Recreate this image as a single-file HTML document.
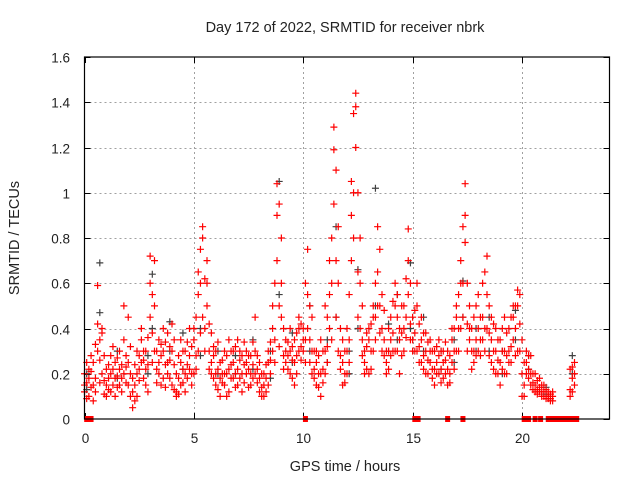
<!DOCTYPE html>
<html><head><meta charset="utf-8"><style>
body{margin:0;background:#fff;width:640px;height:480px;overflow:hidden}
svg{display:block;font-family:"Liberation Sans",sans-serif}
</style></head><body>
<svg id="c" width="640" height="480"></svg>
<script>
const xTicks=[0,5,10,15,20];
const yTicks=[0,0.2,0.4,0.6,0.8,1,1.2,1.4,1.6];
const yTickLabels=["0","0.2","0.4","0.6","0.8","1","1.2","1.4","1.6"];
const redData=[
[0.0,.2,.12,.15],[0.2,.18,.1,.22],[0.4,.25,.15,.08],[0.6,.3,.59,.42],[0.8,.38,.4,.2],
[1.0,.15,.1,.22],[1.2,.2,.28,.12],[1.4,.18,.25,.1],[1.6,.22,.3,.15],[1.8,.5,.35,.2],
[2.0,.45,.25,.15],[2.2,.12,.18,.05],[2.4,.2,.3,.1],[2.6,.35,.25,.4],[2.8,.3,.22,.15],
[3.0,.72,.6,.45],[3.2,.7,.5,.3],[3.4,.35,.2,.25],[3.6,.3,.18,.4],[3.8,.38,.25,.2],
[4.0,.42,.3,.15],[4.2,.12,.2,.1],[4.4,.15,.25,.35],[4.6,.2,.3,.12],[4.8,.28,.22,.4],
[5.0,.4,.35,.2],[5.2,.55,.65,.3],[5.4,.85,.8,.45],[5.6,.7,.6,.5],[5.8,.38,.25,.2],
[6.0,.3,.2,.15],[6.2,.1,.25,.18],[6.4,.3,.2,.15],[6.6,.35,.22,.12],[6.8,.25,.3,.18],
[7.0,.22,.15,.35],[7.2,.28,.2,.12],[7.4,.3,.25,.2],[7.6,.2,.15,.28],[7.8,.45,.3,.2],
[8.0,.18,.12,.25],[8.2,.15,.1,.2],[8.4,.25,.3,.15],[8.6,.4,.5,.3],[8.8,1.04,.9,.7],
[9.0,.8,.6,.45],[9.2,.35,.25,.3],[9.4,.3,.2,.4],[9.6,.25,.15,.35],[9.8,.45,.3,.4],
[10.0,.4,.35,.3],[10.2,.75,.55,.4],[10.4,.3,.2,.45],[10.6,.25,.15,.3],[10.8,.35,.2,.1],
[11.0,.3,.2,.5],[11.2,.7,.55,.4],[11.4,1.29,1.19,.95],[11.6,.85,.6,.3],[11.8,.25,.15,.35],
[12.0,.4,.3,.2],[12.2,1.05,.9,.7],[12.4,1.44,1.38,1.2],[12.6,.8,.6,.4],[12.8,.3,.2,.25],
[13.0,.35,.4,.2],[13.2,.45,.3,.5],[13.4,.85,.65,.5],[13.6,.4,.3,.55],[13.8,.3,.2,.25],
[14.0,.45,.35,.28],[14.2,.5,.3,.6],[14.4,.35,.2,.4],[14.6,.5,.4,.3],[14.8,.84,.7,.55],
[15.0,.45,.35,.3],[15.2,.5,.6,.3],[15.4,.35,.25,.45],[15.6,.3,.2,.38],[15.8,.25,.35,.3],
[16.0,.22,.3,.15],[16.2,.28,.2,.35],[16.4,.18,.25,.3],[16.6,.22,.15,.3],[16.8,.35,.25,.4],
[17.0,.45,.3,.5],[17.2,.7,.6,.4],[17.4,1.04,.9,.78],[17.6,.5,.35,.4],[17.8,.3,.45,.25],
[18.0,.55,.4,.3],[18.2,.6,.45,.35],[18.4,.72,.55,.4],[18.6,.35,.25,.45],[18.8,.3,.4,.2],
[19.0,.25,.35,.15],[19.2,.3,.45,.2],[19.4,.4,.3,.25],[19.6,.5,.35,.45],[19.8,.57,.5,.3],
[20.0,.35,.2,.1],[20.2,.3,.25,.2],[20.4,.28,.15,.2],[20.6,.2,.15,.12],[20.8,.18,.12,.14],
[21.0,.15,.1,.12],[21.2,.12,.09,.1],[21.4,.1,.12,.08],[22.2,.22,.13,.1],[22.4,.25,.2,.15]
];
const redBase=[
[0.1,.16,.25,.09],[0.3,.14,.21,.28],[0.5,.33,.18,.12],[0.7,.35,.26,.16],[0.9,.28,.17,.11],
[1.1,.24,.13,.18],[1.3,.15,.32,.22],[1.5,.27,.14,.19],[1.7,.18,.24,.12],[1.9,.28,.16,.23],
[2.1,.2,.32,.1],[2.3,.24,.15,.08],[2.5,.28,.17,.22],[2.7,.18,.3,.26],[2.9,.24,.36,.12],
[3.1,.38,.25,.55],[3.3,.22,.3,.16],[3.5,.28,.15,.33],[3.7,.24,.34,.14],[3.9,.32,.18,.26],
[4.1,.24,.13,.35],[4.3,.18,.28,.11],[4.5,.3,.16,.22],[4.7,.24,.34,.18],[4.9,.32,.2,.15],
[5.1,.28,.45,.22],[5.3,.6,.38,.75],[5.5,.4,.3,.62],[5.7,.3,.22,.42],[5.9,.28,.18,.32],
[6.1,.22,.34,.13],[6.3,.26,.16,.2],[6.5,.2,.28,.1],[6.7,.3,.18,.24],[6.9,.2,.14,.32],
[7.1,.26,.18,.3],[7.3,.16,.24,.34],[7.5,.22,.28,.14],[7.7,.34,.24,.18],[7.9,.28,.16,.22],
[8.1,.2,.14,.1],[8.3,.18,.24,.12],[8.5,.34,.2,.26],[8.7,.6,.35,.25],[8.9,.95,.5,.32],
[9.1,.4,.28,.22],[9.3,.34,.22,.28],[9.5,.26,.32,.18],[9.7,.38,.28,.2],[9.9,.42,.32,.26],
[10.1,.35,.25,.6],[10.3,.5,.35,.25],[10.5,.22,.3,.18],[10.7,.28,.2,.14],[10.9,.3,.22,.16],
[11.1,.45,.32,.25],[11.3,.8,.6,.35],[11.5,1.1,.7,.45],[11.7,.4,.28,.22],[11.9,.3,.2,.16],
[12.1,.55,.35,.25],[12.3,1.35,1.0,.8],[12.5,1.0,.65,.45],[12.7,.5,.35,.28],[12.9,.32,.22,.38],
[13.1,.42,.3,.22],[13.3,.6,.45,.35],[13.5,.75,.5,.38],[13.7,.48,.35,.28],[13.9,.4,.3,.22],
[14.1,.52,.38,.3],[14.3,.45,.3,.55],[14.5,.5,.38,.28],[14.7,.62,.45,.36],[14.9,.6,.42,.35],
[15.1,.48,.38,.3],[15.3,.42,.32,.25],[15.5,.38,.28,.22],[15.7,.34,.26,.2],[15.9,.3,.22,.18],
[16.1,.32,.25,.2],[16.3,.3,.22,.16],[16.5,.34,.26,.2],[16.7,.28,.2,.16],[16.9,.4,.3,.22],
[17.1,.55,.4,.3],[17.3,.85,.6,.45],[17.5,.6,.42,.3],[17.7,.4,.3,.22],[17.9,.5,.35,.28],
[18.1,.45,.35,.28],[18.3,.65,.4,.3],[18.5,.5,.38,.28],[18.7,.42,.3,.22],[18.9,.35,.26,.2],
[19.1,.4,.3,.22],[19.3,.38,.28,.2],[19.5,.45,.32,.25],[19.7,.5,.4,.28],[19.9,.55,.42,.3],
[20.1,.25,.15,.1],[20.3,.28,.22,.18],[20.5,.2,.16,.13],[20.7,.17,.13,.11],[20.9,.15,.12,.1],
[21.1,.13,.1,.09],[21.3,.11,.09,.08],[22.3,.23,.18,.12]
];
const grayData=[
[0.1,.13,.2],[0.7,.69,.47],[1.5,.3,.18],[2.9,.28,.2],[3.1,.64,.4],[3.9,.43,.3],[4.5,.22,.38],
[5.3,.4,.28],[6.1,.3,.2],[6.9,.28,.2],[7.7,.35,.22],[8.5,.3,.18],[8.9,1.05,.55],[9.5,.38,.25],
[10.3,.5,.3],[11.1,.35,.25],[11.5,.85,.45],[12.1,.3,.2],[12.5,.66,.4],[13.3,1.02,.5],[13.9,.42,.3],
[14.3,.55,.35],[14.9,.69,.4],[15.5,.45,.3],[16.3,.3,.22],[16.9,.35,.25],[17.3,.61,.45],[17.9,.4,.3],
[18.5,.45,.3],[19.1,.3,.2],[19.7,.48,.35],[20.3,.28,.22],[21.1,.14,.11],[22.3,.28,.2]
];
const zeroTimes=[0.1,0.3,10.1,15.1,15.25,16.6,17.3,20.1,20.3,20.6,20.85,21.2,21.4,21.55,21.75,21.95,22.15,22.35,22.5];
const L=84.5,R=609.5,T=57,B=419,XMAX=24,YMAX=1.6;
const sx=v=>L+(R-L)*v/XMAX, sy=v=>B-(B-T)*v/YMAX;
const svg=document.getElementById('c');const NS='http://www.w3.org/2000/svg';
function mk(tag,a,txt){const e=document.createElementNS(NS,tag);for(const k in a)e.setAttribute(k,a[k]);if(txt!=null)e.textContent=txt;svg.appendChild(e);return e;}
let e;
yTicks.forEach((v,i)=>{const y=Math.round(sy(v))+0.5;
 if(v>0&&v<YMAX){e=mk('line',{x1:L,x2:R,y1:y,y2:y,stroke:'#a0a0a0','stroke-dasharray':'2,3'});
 
 }
 e=mk('line',{x1:L,x2:L+6,y1:y,y2:y,stroke:'#000'});
 
 
 e=mk('line',{x1:R-6,x2:R,y1:y,y2:y,stroke:'#000'});
 
 
 e=mk('text',{x:70,y:y+5,'text-anchor':'end','font-size':'13.5',fill:'#222'},yTickLabels[i]);
 
 
});
xTicks.forEach(v=>{const x=Math.round(sx(v))+0.5;
 if(v>0){e=mk('line',{x1:x,x2:x,y1:T,y2:B,stroke:'#a0a0a0','stroke-dasharray':'2,3'});
 
 }
 e=mk('line',{x1:x,x2:x,y1:B-6,y2:B,stroke:'#000'});
 
 
 e=mk('line',{x1:x,x2:x,y1:T,y2:T+6,stroke:'#000'});
 
 
 e=mk('text',{x:x,y:443,'text-anchor':'middle','font-size':'13.5',fill:'#222'},String(v));
 
 
});
function plus(t,v,col,name){const x=sx(t),y=sy(v);
 const p=mk('path',{d:`M${x-3.5},${y}h7M${x},${y-3.5}v7`,stroke:col,'stroke-width':1.2,fill:'none'});
 
 }
grayData.forEach(r=>{for(let i=1;i<r.length;i++)plus(r[0],r[i],'#404040','gray-point');});
redBase.forEach(r=>{for(let i=1;i<r.length;i++)plus(r[0],r[i],'#ff0000','red-point');});
redData.forEach(r=>{for(let i=1;i<r.length;i++)plus(r[0],r[i],'#ff0000','red-point');});
zeroTimes.forEach(t=>{e=mk('rect',{x:sx(t)-2.5,y:B-3,width:5,height:6,fill:'#ff0000'});
 
 });
e=mk('rect',{x:L,y:T,width:R-L,height:B-T,fill:'none',stroke:'#000','stroke-width':1.2});


e=mk('text',{x:345,y:32,'text-anchor':'middle','font-size':'14.5',fill:'#222'},'Day 172 of 2022, SRMTID for receiver nbrk');


e=mk('text',{x:345,y:471,'text-anchor':'middle','font-size':'14.5',fill:'#222'},'GPS time / hours');


e=mk('text',{x:19,y:238,'text-anchor':'middle','font-size':'14.5',fill:'#222',transform:'rotate(-90 19 238)'},'SRMTID / TECUs');


</script>
</body></html>
